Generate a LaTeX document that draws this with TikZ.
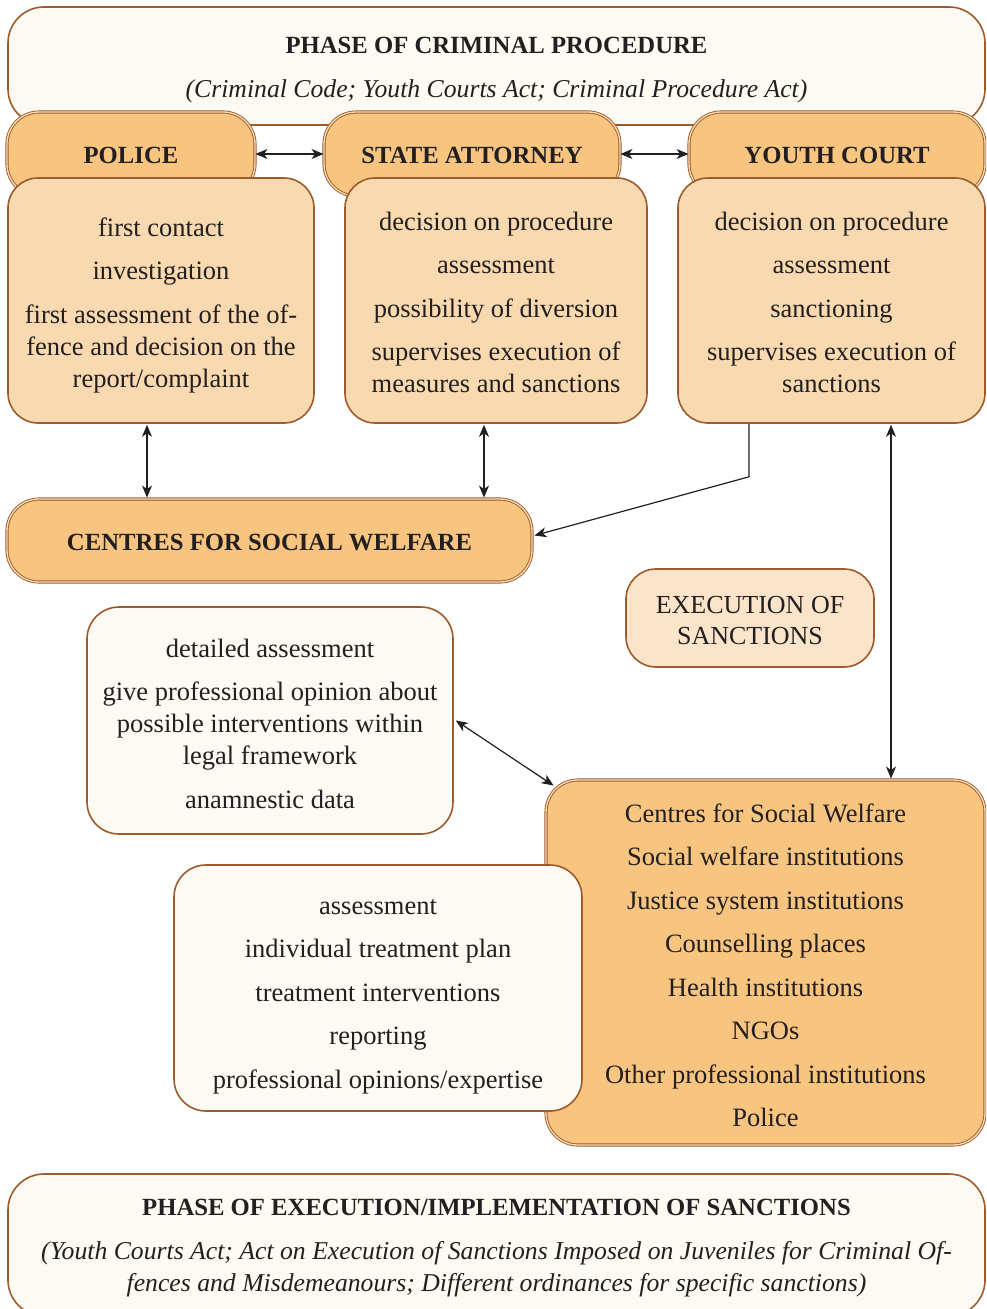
\documentclass[tikz,border=0pt]{standalone}
\usepackage{fontspec}
\setmainfont{Liberation Serif}
\usetikzlibrary{arrows.meta}

\definecolor{edge}{HTML}{9C5B2C}
\definecolor{strong}{HTML}{F8C580}
\definecolor{strongline}{HTML}{FCDDB2}
\definecolor{soft}{HTML}{F9D9B0}
\definecolor{pale}{HTML}{FBE4C9}
\definecolor{cream}{HTML}{FDF9F3}
\definecolor{ink}{HTML}{231F20}

\tikzset{
  box/.style={rectangle, inner sep=0pt, align=center, text=ink,
    font=\fontsize{26.5}{32}\selectfont},
  phasebox/.style={box, fill=cream, draw=edge, line width=1.6pt, rounded corners=36pt},
  headbox/.style={box, fill=strong, draw=edge, double=strongline, line width=0.9pt,
    double distance=1.3pt, rounded corners=32pt,
    font=\fontsize{24.7}{30}\selectfont\bfseries},
  infobox/.style={box, fill=soft, draw=edge, line width=1.6pt, rounded corners=30pt},
  notebox/.style={box, fill=cream, draw=edge, line width=1.6pt, rounded corners=32pt},
  execbox/.style={box, fill=pale, draw=edge, line width=1.6pt, rounded corners=30pt,
    font=\fontsize{26}{31}\selectfont},
  instbox/.style={box, fill=strong, draw=edge, double=strongline, line width=0.9pt,
    double distance=1.3pt, rounded corners=32pt},
  link/.style={draw=ink, line width=1.2pt, {Stealth[length=12pt,width=10pt,inset=3.5pt]}-{Stealth[length=12pt,width=10pt,inset=3.5pt]}},
  oneway/.style={draw=ink, line width=1.2pt, -{Stealth[length=12pt,width=10pt,inset=3.5pt]}},
}

\newcommand{\gap}{\\[11.5pt]}
\newcommand{\lawfont}{\itshape\fontsize{25.7}{32}\selectfont}
% zero-width rule that makes the first line taller, moving the text block down
\newcommand{\lift}[1]{\rule{0pt}{#1pt}}

\begin{document}
\begin{tikzpicture}[x=1pt, y=-1pt]
\useasboundingbox (0,0) rectangle (986,1309);
\clip (0,0) rectangle (986,1309);

% upper phase
\node[phasebox, minimum width=977, minimum height=118] (phaseA) at (496.5,66)
  {\bfseries\fontsize{24.7}{30}\selectfont\lift{25}PHASE OF CRIMINAL PROCEDURE\\[12pt]
   \lawfont (Criminal Code; Youth Courts Act; Criminal Procedure Act)};

% actors
\node[headbox, minimum width=248, minimum height=84] (police) at (131,154) {\lift{18.5}POLICE};
\node[headbox, minimum width=296, minimum height=84] (attorney) at (472,154) {\lift{18.5}STATE ATTORNEY};
\node[headbox, minimum width=296, minimum height=84] (court) at (837,154) {\lift{18.5}YOUTH COURT};

% tasks of each actor
\node[infobox, minimum width=306, minimum height=245] (policetasks) at (161,300.5)
  {\lift{28.3}first contact\gap investigation\gap first assessment of the of-\\
   fence and decision on the\\ report/complaint};
\node[infobox, minimum width=302, minimum height=245] (attorneytasks) at (496,300.5)
  {\lift{22.3}decision on procedure\gap assessment\gap possibility of diversion\gap
   supervises execution of\\ measures and sanctions};
\node[infobox, minimum width=307, minimum height=245] (courttasks) at (831.5,300.5)
  {\lift{22.3}decision on procedure\gap assessment\gap sanctioning\gap
   supervises execution of\\ sanctions};

% social welfare centres
\node[headbox, minimum width=525, minimum height=83] (csw) at (269.5,540.5)
  {\lift{20.5}CENTRES FOR SOCIAL WELFARE};

\node[execbox, minimum width=248, minimum height=98] (exec) at (750,618)
  {\lift{22}EXECUTION OF\\ SANCTIONS};

\node[notebox, minimum width=366, minimum height=227] (cswtasks) at (270,720.5)
  {\lift{24.3}detailed assessment\gap give professional opinion about\\
   possible interventions within\\ legal framework\gap anamnestic data};

\node[instbox, minimum width=439, minimum height=365] (inst) at (765.5,962.5)
  {\lift{24.3}Centres for Social Welfare\gap Social welfare institutions\gap
   Justice system institutions\gap Counselling places\gap
   Health institutions\gap NGOs\gap Other professional institutions\gap Police};

\node[notebox, minimum width=408, minimum height=246] (insttasks) at (378,988)
  {\lift{32}assessment\gap individual treatment plan\gap treatment interventions\gap
   reporting\gap professional opinions/expertise};

% lower phase
\node[phasebox, minimum width=977, minimum height=142] (phaseB) at (496.5,1245)
  {\bfseries\fontsize{24.7}{30}\selectfont\lift{21.5}PHASE OF EXECUTION/IMPLEMENTATION OF SANCTIONS\\[12pt]
   \lawfont (Youth Courts Act; Act on Execution of Sanctions Imposed on Juveniles for Criminal Of-\\
   \lawfont fences and Misdemeanours; Different ordinances for specific sanctions)};

% connectors
\draw[link] (police.east) -- (attorney.west);
\draw[link] (attorney.east) -- (court.west);
\draw[link] ([shift={(-14,1)}]policetasks.south) -- ([shift={(-122.5,-1)}]csw.north);
\draw[link] ([shift={(-12,1)}]attorneytasks.south) -- ([shift={(214.5,-1)}]csw.north);
\draw[oneway] ([shift={(-82.5,0)}]courttasks.south) -- ++(0,53) -- ([shift={(2,-5)}]csw.east);
\draw[link] ([shift={(59.5,1)}]courttasks.south) -- ([shift={(125.5,-1)}]inst.north);
\draw[link] ([shift={(2,0)}]cswtasks.east) -- ([shift={(8,6)}]inst.north west);
\end{tikzpicture}
\end{document}
